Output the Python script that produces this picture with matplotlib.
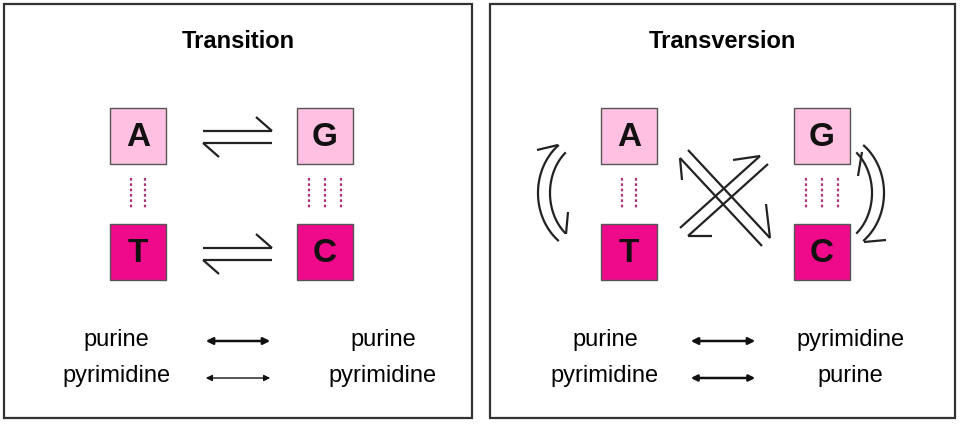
import numpy as np
import matplotlib.pyplot as plt
from matplotlib.patches import Rectangle

plt.rcParams['font.family'] = ['Liberation Sans', 'DejaVu Sans']

titles = ["Transition", "Transversion"]
purines = ["A", "G"]
pyrimidines = ["T", "C"]
left_labels = [["purine", "pyrimidine"], ["purine", "pyrimidine"]]
right_labels = [["purine", "pyrimidine"], ["pyrimidine", "purine"]]
hbonds = [2, 3]  # A-T, G-C

LIGHT = "#FFC0E2"
DARK = "#EE0A8A"
DOT = "#B0307A"

fig = plt.figure(figsize=(9.6, 4.24), dpi=100)
ax = fig.add_axes([0, 0, 1, 1])
ax.set_xlim(0, 960)
ax.set_ylim(424, 0)
ax.axis('off')


def line(p, q, lw=1.6):
    ax.plot([p[0], q[0]], [p[1], q[1]], color='#222222', lw=lw, solid_capstyle='butt')


def harpoon(x0, x1, y, up=True, lw=1.6):
    # straight line with a single barb at the x1 end
    line((x0, y), (x1, y), lw)
    d = np.sign(x1 - x0)
    dy = -14 if up else 14
    line((x1, y), (x1 - d * 16, y + dy), lw)


def base_box(x, y, letter, color):
    ax.add_patch(Rectangle((x, y), 56, 56, facecolor=color, edgecolor='#555555', lw=1))
    ax.text(x + 28, y + 30, letter, ha='center', va='center', fontsize=24, fontweight='bold', color='#111111')


def hbond_lines(xc, n):
    offs = [-7, 7] if n == 2 else [-16, 0, 16]
    for o in offs:
        ax.plot([xc + o, xc + o], [178, 208], color=DOT, lw=1.6, ls=(0, (1.2, 1.2)))


def arc(cx, cy, rx, ry, t0, t1):
    t = np.radians(np.linspace(t0, t1, 60))
    ax.plot(cx + rx * np.cos(t), cy + ry * np.sin(t), color='#222222', lw=1.6)


panels = [(4, 472), (490, 955)]
box_x = [(110, 297), (601, 794)]
label_x = [(116, 383), (605, 850)]
for i, (px0, px1) in enumerate(panels):
    ax.add_patch(Rectangle((px0, 4), px1 - px0, 414, facecolor='white', edgecolor='#333333', lw=1.6))
    cx = (px0 + px1) / 2
    ax.text(cx, 42, titles[i], ha='center', va='center', fontsize=17, fontweight='bold')
    for j in range(2):
        base_box(box_x[i][j], 108, purines[j], LIGHT)
        base_box(box_x[i][j], 224, pyrimidines[j], DARK)
        hbond_lines(box_x[i][j] + 28, hbonds[j])
    lx, rx = label_x[i]
    for k in range(2):
        ax.text(lx, 340 + 36 * k, left_labels[i][k], ha='center', va='center', fontsize=17)
        ax.text(rx, 340 + 36 * k, right_labels[i][k], ha='center', va='center', fontsize=17)
    ax0 = 203 if i == 0 else 688
    ax.annotate('', xy=(ax0 + 70, 341), xytext=(ax0, 341),
                arrowprops=dict(arrowstyle='<|-|>', color='#111111', lw=1.8, mutation_scale=10))
    ax.annotate('', xy=(ax0 + 70, 378), xytext=(ax0, 378),
                arrowprops=dict(arrowstyle='<|-|>', color='#111111', lw=1.0 if i == 0 else 1.8, mutation_scale=9))

# transition harpoons
for yy in (131, 248):
    harpoon(203, 272, yy, up=True)
    harpoon(272, 203, yy + 12, up=False)

# transversion crossing arrows
line((688, 150), (770, 238))
line((680, 158), (762, 246))
line((770, 238), (766, 204))
line((680, 158), (682, 180))
line((680, 228), (760, 156))
line((688, 236), (768, 164))
line((760, 156), (733, 160))
line((688, 236), (712, 236))

# curved side arrows
arc(590, 193, 52, 60, 128, 232)
arc(592, 193, 42, 52, 130, 230)
line((558, 145), (537, 150))
line((566, 234), (568, 212))
arc(832, 193, 52, 60, -52, 52)
arc(830, 193, 42, 52, -50, 50)
line((864, 242), (886, 240))
line((862, 152), (858, 176))

fig.savefig('out.png', dpi=100)
